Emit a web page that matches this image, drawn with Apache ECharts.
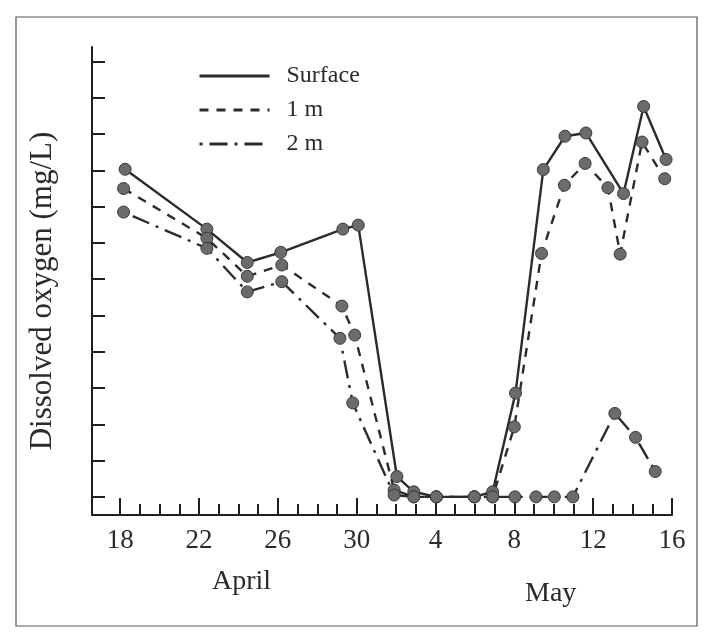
<!DOCTYPE html>
<html>
<head>
<meta charset="utf-8">
<script src="https://cdn.jsdelivr.net/npm/echarts@6/dist/echarts.min.js"></script>
<style>html,body{margin:0;padding:0;background:#fff;}#c{width:710px;height:635px;}</style>
</head>
<body>
<div id="c"></div>
<script>
// Day index: 0 = 18 April ... 12 = 30 April, 13 = 1 May ... 28 = 16 May
const xTickDays = [0, 4, 8, 12, 16, 20, 24, 28];
const xTickLabels = ['18', '22', '26', '30', '4', '8', '12', '16'];
const xMinorDays = [0,1,2,3,4,5,6,7,8,9,10,11,12,13,14,15,16,17,18,19,20,21,22,23,24,25,26,27,28];
const yTickValues = [0,1,2,3,4,5,6,7,8,9,10,11,12];
const monthNames = ['April', 'May'];
const seriesNames = ['Surface', '1 m', '2 m'];
const yTitle = 'Dissolved oxygen (mg/L)';

const surfaceDays = [0.25, 4.4, 6.45, 8.15, 11.3, 12.08, 14.04, 14.9, 16.04, 17.97, 18.9, 20.06, 21.47, 22.57, 23.63, 25.54, 26.56, 27.7];
const surfaceDO   = [9.03, 7.38, 6.46, 6.74, 7.38, 7.49, 0.56, 0.14, 0.0, 0.0, 0.14, 2.86, 9.02, 9.94, 10.03, 8.36, 10.76, 9.30];

const m1Days = [0.17, 4.4, 6.45, 8.2, 11.25, 11.9, 13.9, 14.9, 16.04, 17.97, 18.9, 20.0, 21.38, 22.54, 23.59, 24.75, 25.37, 26.48, 27.63];
const m1DO   = [8.50, 7.13, 6.08, 6.39, 5.26, 4.46, 0.19, 0.0, 0.0, 0.0, 0.0, 1.93, 6.71, 8.59, 9.19, 8.52, 6.69, 9.78, 8.77];

const m2Days = [0.17, 4.4, 6.45, 8.2, 11.15, 11.8, 13.9, 14.9, 16.04, 17.97, 18.9, 20.03, 21.1, 22.03, 22.97, 25.1, 26.15, 27.15];
const m2DO   = [7.85, 6.85, 5.65, 5.93, 4.37, 2.59, 0.05, 0.0, 0.0, 0.0, 0.0, 0.0, 0.0, 0.0, 0.0, 2.30, 1.64, 0.70];

function pairs(xs, ys) { return xs.map((x, i) => [x, ys[i]]); }

const serif = "'Liberation Serif', 'DejaVu Serif', serif";
const ink = '#1e1e1e';
const lineColor = '#2b2b2b';

const chart = echarts.init(document.getElementById('c'), null, {renderer: 'canvas'});

function mkSeries(name, data, dash) {
  return {
    name: name,
    type: 'line',
    data: data,
    xAxisIndex: 0,
    symbol: 'circle',
    symbolSize: 12,
    showAllSymbol: true,
    itemStyle: {color: '#6b6b6b', borderColor: '#3a3a3a', borderWidth: 1},
    lineStyle: {color: lineColor, width: 2.4, type: dash},
    emphasis: {disabled: true},
    animation: false,
    z: 3
  };
}

chart.setOption({
  backgroundColor: '#ffffff',
  animation: false,
  grid: {left: 92, right: 38, top: 47, bottom: 120, containLabel: false},
  legend: {
    orient: 'vertical',
    left: 198,
    top: 64,
    padding: 0,
    itemWidth: 70,
    itemHeight: 24,
    itemGap: 10,
    data: seriesNames,
    itemStyle: {opacity: 0},
    lineStyle: {width: 3, color: lineColor},
    textStyle: {fontFamily: serif, fontSize: 24, color: '#2a2a2a', padding: [0, 0, 0, 12]},
    selectedMode: false
  },
  xAxis: [
    {
      type: 'value', min: -1.43, max: 28, position: 'bottom',
      axisLine: {show: true, onZero: false, lineStyle: {color: ink, width: 2}},
      axisTick: {show: true, inside: true, length: 11, customValues: xMinorDays, lineStyle: {color: ink, width: 2}},
      axisLabel: {
        show: true, customValues: xTickDays, margin: 12,
        fontFamily: serif, fontSize: 27, color: '#2a2a2a',
        formatter: function (v) { const i = xTickDays.indexOf(v); return i >= 0 ? xTickLabels[i] : ''; }
      },
      splitLine: {show: false}
    },
    {
      type: 'value', min: -1.43, max: 28, position: 'bottom',
      axisLine: {show: false, onZero: false},
      axisTick: {show: true, inside: true, length: 17, customValues: xTickDays, lineStyle: {color: ink, width: 2}},
      axisLabel: {show: false},
      splitLine: {show: false}
    }
  ],
  yAxis: {
    type: 'value', min: -0.5, max: 12.4,
    name: yTitle, nameLocation: 'middle', nameRotate: 90, nameGap: 34,
    nameTextStyle: {fontFamily: serif, fontSize: 31, color: '#2a2a2a', padding: [0, 20, 0, 0]},
    axisLine: {show: true, onZero: false, lineStyle: {color: ink, width: 2}},
    axisTick: {show: true, inside: true, length: 13, customValues: yTickValues, lineStyle: {color: ink, width: 2}},
    axisLabel: {show: false},
    splitLine: {show: false}
  },
  graphic: [
    {type: 'rect', shape: {x: 16, y: 17, width: 681, height: 609}, style: {fill: 'none', stroke: '#555', lineWidth: 1.2}, z: -1, silent: true},
    {type: 'text', left: 212, top: 568, style: {text: monthNames[0], font: "28px 'Liberation Serif', serif", fill: '#2a2a2a'}, silent: true},
    {type: 'text', left: 525, top: 580, style: {text: monthNames[1], font: "28px 'Liberation Serif', serif", fill: '#2a2a2a'}, silent: true}
  ],
  series: [
    mkSeries(seriesNames[0], pairs(surfaceDays, surfaceDO), 'solid'),
    mkSeries(seriesNames[1], pairs(m1Days, m1DO), [9, 8]),
    mkSeries(seriesNames[2], pairs(m2Days, m2DO), [3, 7, 18, 7])
  ]
});
</script>
</body>
</html>
